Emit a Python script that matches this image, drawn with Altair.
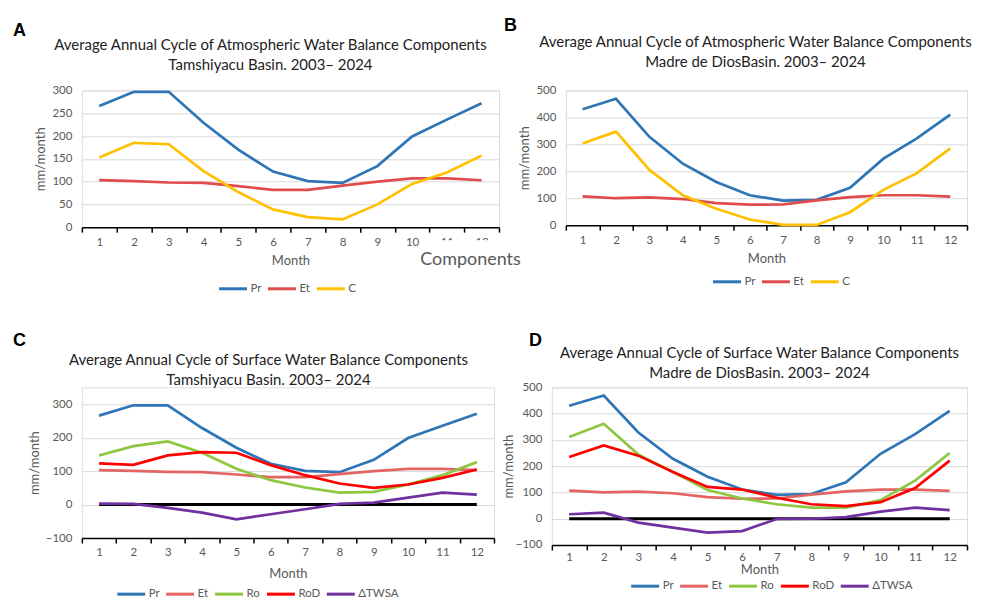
import altair as alt
import pandas as pd

months = list(range(1, 13))

# Tamshiyacu basin
tam_pr = [266, 297, 297, 229, 170, 122, 101, 97, 134, 199, 236, 272]
tam_et = [103, 101, 98, 97, 90, 82, 82, 91, 100, 107, 107, 103]
tam_c = [153, 185, 182, 123, 77, 39, 22, 17, 50, 95, 120, 157]
tam_ro = [147, 175, 189, 155, 107, 73, 51, 36, 38, 60, 88, 127]
tam_rod = [123, 119, 147, 157, 155, 118, 88, 63, 50, 60, 80, 105]
tam_twsa = [3, 2, -10, -24, -44, -29, -14, 2, 6, 21, 36, 30]

# Madre de Dios basin
mdd_pr = [430, 469, 328, 228, 160, 111, 91, 94, 139, 247, 322, 410]
mdd_et = [107, 100, 103, 97, 82, 76, 77, 92, 104, 111, 111, 106]
mdd_c = [303, 347, 205, 111, 61, 21, 1, 1, 48, 131, 193, 285]
mdd_ro = [311, 361, 244, 178, 109, 77, 55, 42, 42, 71, 145, 250]
mdd_rod = [235, 279, 240, 178, 121, 111, 80, 55, 48, 63, 117, 221]
mdd_twsa = [17, 23, -15, -34, -53, -47, -1, 0, 6, 27, 42, 33]

zero_line = [0] * 12

atm_names = ["Pr", "Et", "C"]
atm_colors_ = ["#2E75B6", "#E04B4B", "#FFC000"]
sur_names = ["Pr", "Et", "Ro", "RoD", "\u0394TWSA"]
sur_colors = ["#2E75B6", "#E46464", "#8DC63F", "#FF0000", "#7030A0"]

title_A = ["Average Annual Cycle of Atmospheric Water Balance Components", "Tamshiyacu Basin.  2003\u2013 2024"]
title_B = ["Average Annual Cycle of Atmospheric Water Balance Components", "Madre de DiosBasin.  2003\u2013 2024"]
title_C = ["Average Annual Cycle of Surface Water Balance Components", "Tamshiyacu Basin.  2003\u2013 2024"]
title_D = ["Average Annual Cycle of Surface Water Balance Components", "Madre de DiosBasin.  2003\u2013 2024"]

FONT = "Lato"
GRAY = "#595959"


def build_df(names, arrays):
    rows = []
    for name, vals in zip(names, arrays):
        for m, v in zip(months, vals):
            rows.append({"Month": m, "Series": name, "Value": v})
    return pd.DataFrame(rows)


def text_layer(txt, px, py, size, color, font=FONT, weight="normal", align="center",
               baseline="middle"):
    tdf = pd.DataFrame({"t": [txt]})
    return alt.Chart(tdf).mark_text(font=font, fontWeight=weight, fontSize=size, align=align,
                                    baseline=baseline, color=color).encode(
        x=alt.value(px), y=alt.value(py), text="t:N")


def panel(names, arrays, colors, ydom, yvals, title, w, h, letter, letter_xy,
          legend_xy, title_x, title_y, ytitle_pad, lab_pad=4, xt_pad=7,
          zero=False, extra=None):
    df = build_df(names, arrays)
    x = alt.X("Month:O", bandPosition=0.5,
              scale=alt.Scale(type="band", paddingInner=0, paddingOuter=0),
              axis=alt.Axis(title="Month", labelAngle=0, tickBand="extent",
                            ticks=True, tickColor="black", tickSize=5, tickWidth=1.5,
                            domainColor="black", domainWidth=1.5,
                            labelColor=GRAY, titleColor=GRAY, labelFontSize=11.5,
                            titleFontSize=13, titleFontWeight="normal",
                            labelPadding=lab_pad, titlePadding=xt_pad, grid=False,
                            labelFont=FONT, titleFont=FONT))
    y = alt.Y("Value:Q", scale=alt.Scale(domain=ydom, nice=False, zero=False),
              axis=alt.Axis(title="mm/month", values=yvals,
                            domain=False, ticks=False, labelPadding=10,
                            gridColor="#d9d9d9", gridWidth=1,
                            labelColor=GRAY, titleColor=GRAY, labelFontSize=11.5,
                            titleFontSize=13, titleFontWeight="normal",
                            titlePadding=ytitle_pad, labelFont=FONT, titleFont=FONT))
    layers = []
    if zero:
        zdf = pd.DataFrame({"Month": months, "Value": zero_line})
        layers.append(alt.Chart(zdf).mark_line(strokeWidth=3, color="black").encode(x=x, y=y))
    lines = alt.Chart(df).mark_line(strokeWidth=2.7).encode(
        x=x, y=y,
        color=alt.Color("Series:N", sort=names,
                        scale=alt.Scale(domain=names, range=colors),
                        legend=alt.Legend(title=None, orient="none",
                                          legendX=legend_xy[0], legendY=legend_xy[1],
                                          direction="horizontal", symbolType="stroke",
                                          symbolStrokeWidth=3, symbolSize=784,
                                          labelColor=GRAY, labelFontSize=11.5,
                                          labelFont=FONT, columnPadding=0, labelOffset=2)),
    )
    layers.append(lines)
    layers.append(text_layer(letter, letter_xy[0], letter_xy[1], 18, "black",
                             font="Liberation Sans", weight="bold", align="left",
                             baseline="alphabetic"))
    layers.append(text_layer(title[0], title_x, title_y, 15, "#222222"))
    layers.append(text_layer(title[1], title_x, title_y + 20, 15, "#222222"))
    if extra is not None:
        # the pasted "Components" label sits on a white box that hides part of labels 11 and 12
        bdf = pd.DataFrame({"t": [extra[0]]})
        layers.append(alt.Chart(bdf).mark_rect(color="white").encode(
            x=alt.value(extra[3][0]), x2=alt.value(extra[3][1]),
            y=alt.value(extra[3][2]), y2=alt.value(extra[3][3])))
        layers.append(text_layer(extra[0], extra[1], extra[2], 18, GRAY, align="left"))
    return alt.layer(*layers).properties(width=w, height=h)


chart_A = panel(atm_names, [tam_pr, tam_et, tam_c], atm_colors_, [0, 300],
                [0, 50, 100, 150, 200, 250, 300], title_A,
                418, 137, "A", (-69, -54.5), (136, 183), 189, -45.5, 4,
                extra=("Components", 339, 169.5, (345, 442, 150, 185)))
chart_B = panel(atm_names, [mdd_pr, mdd_et, mdd_c], atm_colors_, [0, 500],
                [0, 100, 200, 300, 400, 500], title_B,
                402, 135, "B", (-62, -59.5), (146, 176), 190, -48.5, 4)
# C's domain runs a little above 300 so that its 300 line sits lower than D's top
chart_C = panel(sur_names, [tam_pr, tam_et, tam_ro, tam_rod, tam_twsa], sur_colors, [-100, 350.75],
                [-100, 0, 100, 200, 300], title_C, 413, 151, "C", (-69, -41), (34, 191.5), 187, -27, 4,
                xt_pad=9, zero=True)
chart_D = panel(sur_names, [mdd_pr, mdd_et, mdd_ro, mdd_rod, mdd_twsa], sur_colors, [-100, 500],
                [-100, 0, 100, 200, 300, 400, 500], title_D, 416, 158, "D", (-23, -41), (78, 183.5),
                208, -34, 0, lab_pad=2, xt_pad=0, zero=True)

row1 = alt.hconcat(chart_A, chart_B, spacing=67, bounds="flush").resolve_scale(
    x="independent", y="independent", color="independent").resolve_legend(color="independent")
row2 = alt.hconcat(chart_C, chart_D, spacing=58, bounds="flush").resolve_scale(
    x="independent", y="independent", color="independent").resolve_legend(color="independent")

chart = alt.vconcat(row1, row2, spacing=297.5, bounds="flush").resolve_scale(
    x="independent", y="independent", color="independent").resolve_legend(
    color="independent").properties(
    padding={"left": 4, "top": 8, "right": 0, "bottom": 0}
).configure_view(stroke=None).configure(background="white")

chart.save("out.html", embed_options={"renderer": "svg", "actions": False})
